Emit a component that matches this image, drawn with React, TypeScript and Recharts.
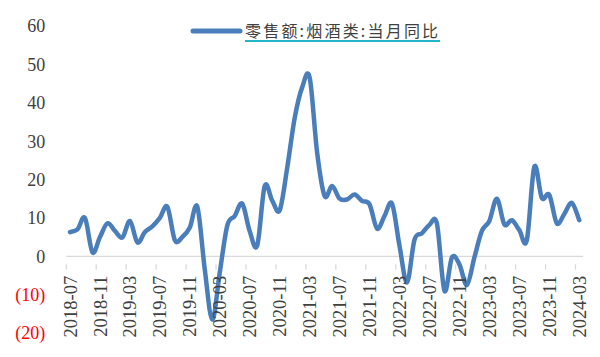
import React from 'react';
import { LineChart, Line, XAxis, YAxis, CartesianGrid } from 'recharts';

const MONTHS = [
  '2018-07', '2018-08', '2018-09', '2018-10', '2018-11', '2018-12',
  '2019-01', '2019-02', '2019-03', '2019-04', '2019-05', '2019-06',
  '2019-07', '2019-08', '2019-09', '2019-10', '2019-11', '2019-12',
  '2020-01', '2020-02', '2020-03', '2020-04', '2020-05', '2020-06',
  '2020-07', '2020-08', '2020-09', '2020-10', '2020-11', '2020-12',
  '2021-01', '2021-02', '2021-03', '2021-04', '2021-05', '2021-06',
  '2021-07', '2021-08', '2021-09', '2021-10', '2021-11', '2021-12',
  '2022-01', '2022-02', '2022-03', '2022-04', '2022-05', '2022-06',
  '2022-07', '2022-08', '2022-09', '2022-10', '2022-11', '2022-12',
  '2023-01', '2023-02', '2023-03', '2023-04', '2023-05', '2023-06',
  '2023-07', '2023-08', '2023-09', '2023-10', '2023-11', '2023-12',
  '2024-01', '2024-02', '2024-03',
];

const YOY = [
  6.3, 7.0, 10.0, 1.0, 5.0, 8.6,
  6.6, 4.9, 9.2, 3.6, 6.3, 7.8,
  10.0, 12.9, 4.2, 5.0, 7.5, 12.9,
  -3.5, -16.5, -4.2, 8.0, 10.5, 13.7,
  6.5, 2.8, 18.3, 14.5, 12.0, 23.0,
  36.0, 44.0, 46.6, 27.0, 15.7, 18.3,
  15.0, 14.8, 16.1, 14.4, 13.5, 7.2,
  10.5, 13.7, 2.7, -6.8, 4.3, 6.0,
  8.2, 8.5, -9.0, -0.3, -2.1, -7.5,
  -0.3, 6.6, 9.2, 15.0, 8.3, 9.4,
  6.8, 4.2, 23.3, 15.2, 16.0, 8.6,
  11.0, 13.9, 9.4,
];

const Y_TICKS = [-20, -10, 0, 10, 20, 30, 40, 50, 60];
const SERIES_NAME = '零售额:烟酒类:当月同比';

const data = MONTHS.map((m, i) => ({ month: m, v: YOY[i] }));

const W = 600;
const H = 357;
const M_TOP = 26;
const M_BOTTOM = 4;
const X_AXIS_H = 20;
const M_LEFT = 6.25;
const Y_AXIS_W = 60;
const M_RIGHT = 17;
const PAD = 3.75;
const PLOT_H = H - M_TOP - M_BOTTOM - X_AXIS_H;
const PLOT_W = W - M_LEFT - Y_AXIS_W - M_RIGHT;
const STEP = (PLOT_W - 2 * PAD) / (MONTHS.length - 1);
const Y_MIN = -20;
const Y_MAX = 60;
const ZERO_FROM_BOTTOM = ((0 - Y_MIN) / (Y_MAX - Y_MIN)) * PLOT_H;

const SERIF = '"Liberation Serif", "Times New Roman", serif';
const LINE_COLOR = '#4A7EBB';

// Excel-like smoothed line (Catmull-Rom through the points)
const smooth: any = (context: any) => {
  let pts: [number, number][] = [];
  return {
    areaStart() {},
    areaEnd() {},
    lineStart() {
      pts = [];
    },
    point(x: number, y: number) {
      pts.push([+x, +y]);
    },
    lineEnd() {
      const n = pts.length;
      if (!n) return;
      context.moveTo(pts[0][0], pts[0][1]);
      for (let i = 0; i < n - 1; i++) {
        const p0 = pts[i - 1] || pts[i];
        const p1 = pts[i];
        const p2 = pts[i + 1];
        const p3 = pts[i + 2] || p2;
        context.bezierCurveTo(
          p1[0] + (p2[0] - p0[0]) / 6,
          p1[1] + (p2[1] - p0[1]) / 6,
          p2[0] - (p3[0] - p1[0]) / 6,
          p2[1] - (p3[1] - p1[1]) / 6,
          p2[0],
          p2[1]
        );
      }
    },
  };
};

const YTick = (props: any) => {
  const { x, y, payload } = props;
  const v = payload.value as number;
  const neg = v < 0;
  return (
    <text
      x={x}
      y={y}
      dy="0.355em"
      textAnchor="end"
      fontFamily={SERIF}
      fontSize={18}
      fill={neg ? '#FF0000' : '#404040'}
    >
      {neg ? `(${-v})` : `${v}`}
    </text>
  );
};

const XTick = (props: any) => {
  const { x, y, payload } = props;
  const zeroY = y - ZERO_FROM_BOTTOM;
  return (
    <g>
      <line
        x1={x - STEP / 2}
        x2={x - STEP / 2}
        y1={zeroY}
        y2={zeroY + 5.5}
        stroke="#d9d9d9"
        strokeWidth={1.25}
      />
      <text
        transform={`translate(${x}, ${zeroY + 11.5}) rotate(-90)`}
        dy="0.355em"
        textAnchor="end"
        fontFamily={SERIF}
        fontSize={18.5}
        fill="#404040"
      >
        {payload.value}
      </text>
    </g>
  );
};

export default function App() {
  return (
    <div
      style={{
        position: 'fixed',
        left: 0,
        top: 0,
        width: W,
        height: H,
        background: '#fff',
      }}
    >
      <LineChart
        width={W}
        height={H}
        data={data}
        margin={{ top: M_TOP, right: M_RIGHT, bottom: M_BOTTOM, left: M_LEFT }}
      >
        <CartesianGrid
          vertical={false}
          horizontalValues={[0]}
          stroke="#d9d9d9"
          strokeWidth={1.25}
        />
        <XAxis
          dataKey="month"
          interval={3}
          axisLine={false}
          tickLine={false}
          height={X_AXIS_H}
          padding={{ left: PAD, right: PAD }}
          tick={<XTick />}
        />
        <YAxis
          width={Y_AXIS_W}
          domain={[Y_MIN, Y_MAX]}
          ticks={Y_TICKS}
          interval={0}
          axisLine={false}
          tickLine={false}
          tickSize={0}
          tickMargin={21}
          tick={<YTick />}
        />
        <Line
          dataKey="v"
          type={smooth}
          stroke={LINE_COLOR}
          strokeWidth={4.5}
          strokeLinecap="round"
          strokeLinejoin="round"
          dot={false}
          activeDot={false}
          isAnimationActive={false}
        />
      </LineChart>
      <div
        style={{
          position: 'absolute',
          left: 190,
          top: 19,
          display: 'flex',
          alignItems: 'center',
          height: 24,
        }}
      >
        <svg width={54} height={10} style={{ display: 'block' }}>
          <line
            x1={3}
            x2={50}
            y1={5}
            y2={5}
            stroke={LINE_COLOR}
            strokeWidth={5}
            strokeLinecap="round"
          />
        </svg>
        <span
          style={{
            marginLeft: 1,
            fontFamily: '"Noto Sans CJK SC", sans-serif',
            fontSize: 16,
            letterSpacing: 2.2,
            color: '#404040',
            lineHeight: '18px',
            borderBottom: '2px solid #22B4C8',
            paddingBottom: 1,
            whiteSpace: 'nowrap',
          }}
        >
          {SERIES_NAME}
        </span>
      </div>
    </div>
  );
}
